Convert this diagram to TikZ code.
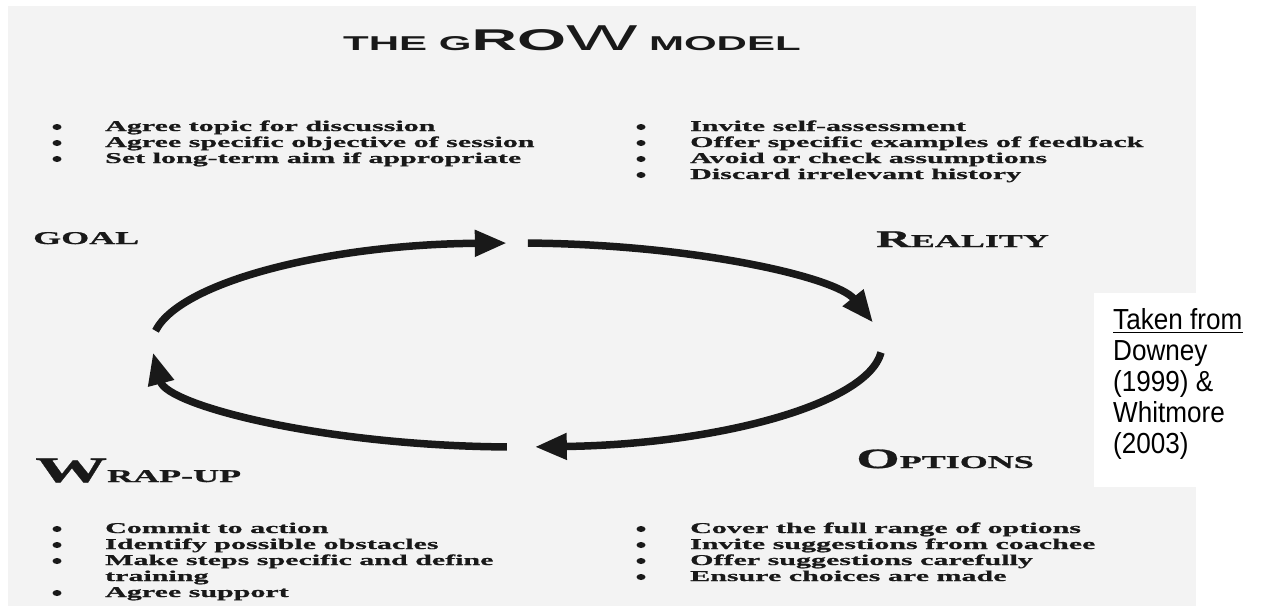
\documentclass[tikz,border=0pt]{standalone}
\usepackage{fontspec}
\setmainfont{Liberation Sans}
\newfontfamily\scanfont[FakeStretch=2.0, BoldFeatures={FakeBold=1}]{Liberation Serif}
\newfontfamily\headfont[FakeStretch=2.1]{Liberation Sans}
\newfontfamily\citefont[FakeStretch=0.9]{Liberation Sans}
\usetikzlibrary{arrows.meta, calc}
\definecolor{scangray}{RGB}{243,243,243}
\definecolor{ink}{RGB}{25,25,25}

\tikzset{
  cycle arrow/.style={line width=7.5pt, draw=ink, -{Triangle[length=32pt,width=25pt]}},
  point/.style={anchor=base west, inner sep=0pt, text=ink, font=\scanfont\bfseries\fontsize{15}{16}\selectfont},
  dot/.style={fill=ink},
  stage/.style={anchor=base west, inner sep=0pt, text=ink, font=\scanfont\bfseries},
  cite/.style={anchor=base west, inner sep=0pt, text=black, font=\citefont\fontsize{29}{31}\selectfont}
}

\begin{document}
\begin{tikzpicture}[x=1pt, y=-1pt]
\useasboundingbox (0,0) rectangle (1265,611);
\fill[white] (0,0) rectangle (1265,611);
\fill[scangray] (8,6) rectangle (1196,606);
\fill[white] (1094,293) rectangle (1265,487);

% title
\node[anchor=base west, inner sep=0pt, text=ink, font=\headfont\bfseries] (title) at (343,50)
  {\fontsize{20}{20}\selectfont THE G\fontsize{30}{30}\selectfont RO\fontsize{36}{36}\selectfont\mdseries W\fontsize{20}{20}\selectfont\bfseries{} MODEL};

% goal and reality points
\foreach \txt [count=\i from 0] in {Agree topic for discussion, Agree specific objective of session, Set long-term aim if appropriate}{
  \fill[dot] (57,{127+16*\i}) ellipse[x radius=4.5, y radius=3];
  \node[point] (g\i) at (105,{131+16*\i}) {\txt};
}
\foreach \txt [count=\i from 0] in {Invite self-assessment, Offer specific examples of feedback, Avoid or check assumptions, Discard irrelevant history}{
  \fill[dot] (641,{127+16*\i}) ellipse[x radius=4.5, y radius=3];
  \node[point] (r\i) at (690,{131+16*\i}) {\txt};
}

% wrap-up and options points
\foreach \y/\txt [count=\i] in {533/Commit to action, 549/Identify possible obstacles, 565/Make steps specific and define, 597/Agree support}{
  \fill[dot] (57,\y-4) ellipse[x radius=4.5, y radius=3];
  \node[point] (w\i) at (105,\y) {\txt};
}
\node[point] (w3b) at (105,581) {training};
\foreach \txt [count=\i from 0] in {Cover the full range of options, Invite suggestions from coachee, Offer suggestions carefully, Ensure choices are made}{
  \fill[dot] (641,{529+16*\i}) ellipse[x radius=4.5, y radius=3];
  \node[point] (o\i) at (690,{533+16*\i}) {\txt};
}

% stages
\node[stage] (goal) at (33,244) {\fontsize{18}{18}\selectfont GOAL};
\node[stage] (reality) at (876,247) {\fontsize{24}{24}\selectfont R\fontsize{18}{18}\selectfont EALITY};
\node[stage] (options) at (856,468) {\fontsize{28}{28}\selectfont O\fontsize{18}{18}\selectfont PTIONS};
\node[stage] (wrapup) at (35,482) {\fontsize{36}{36}\selectfont W\fontsize{18}{18}\selectfont RAP-UP};

% cycle
\coordinate (ctr) at (517,345);
\coordinate (gr) at ($(ctr)+(188:365 and 102)$);
\coordinate (rr) at ($(ctr)+(271.7:365 and 102)$);
\coordinate (ro) at ($(ctr)+(4.2:365 and 102)$);
\coordinate (ow) at ($(ctr)+(91.6:365 and 102)$);
\draw[cycle arrow] (gr) arc[start angle=188, end angle=268.4, x radius=365, y radius=102];
\draw[cycle arrow] (rr) arc[start angle=271.7, end angle=347.3, x radius=365, y radius=102];
\draw[cycle arrow] (ro) arc[start angle=4.2, end angle=87.2, x radius=365, y radius=102];
\draw[cycle arrow] (ow) arc[start angle=91.6, end angle=175.8, x radius=365, y radius=102];

% source
\node[cite] (tk) at (1113,329) {Taken from};
\draw[line width=1.8pt] ([yshift=-3pt]tk.south west) -- ([yshift=-3pt]tk.south east);
\foreach \txt [count=\i] in {Downey, {(1999) \&}, Whitmore, (2003)}
  \node[cite] (src\i) at (1113,{329+31*\i}) {\txt};
\end{tikzpicture}
\end{document}
